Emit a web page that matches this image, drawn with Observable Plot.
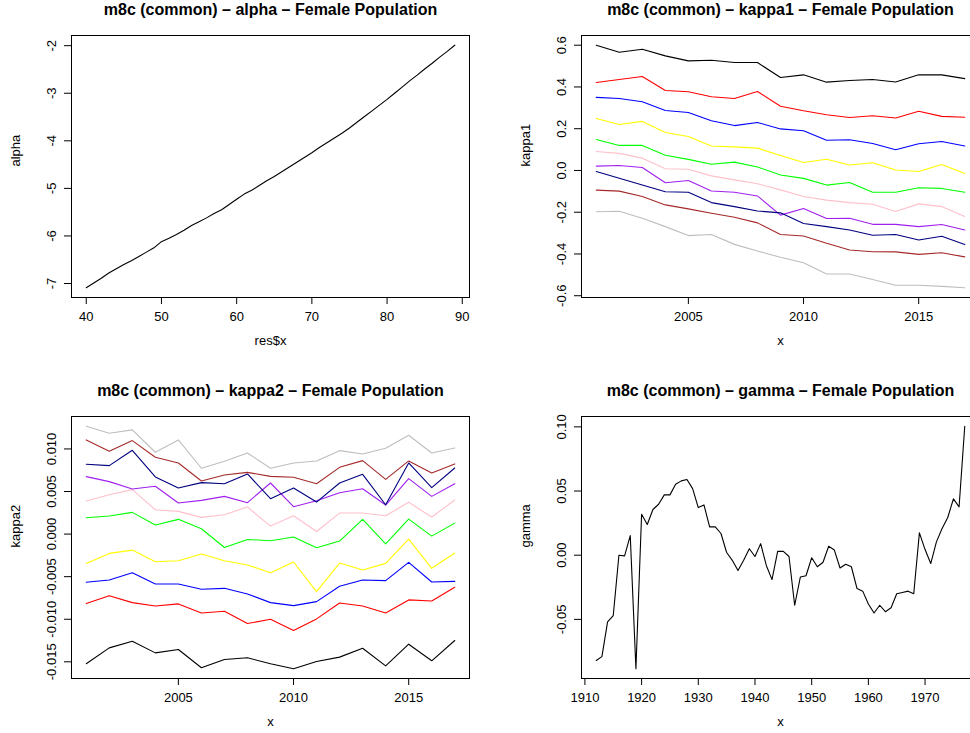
<!DOCTYPE html>
<html>
<head>
<meta charset="utf-8">
<script src="https://cdn.jsdelivr.net/npm/d3@7"></script>
<script src="https://cdn.jsdelivr.net/npm/@observablehq/plot@0.6"></script>
<style>
  html, body { margin: 0; padding: 0; background: #fff; }
  #wrap { position: relative; width: 970px; height: 733px; overflow: hidden; background: #fff; }
  .panel { position: absolute; width: 510px; height: 381px; }
</style>
</head>
<body>
<div id="wrap">
  <div class="panel" id="p1" style="left:0;top:0"></div>
  <div class="panel" id="p2" style="left:510px;top:0"></div>
  <div class="panel" id="p3" style="left:0;top:381px"></div>
  <div class="panel" id="p4" style="left:510px;top:381px"></div>
</div>
<script>
// ---------- DATA ----------
const ages = d3.range(40, 90); // 40..89
const alpha = [-7.09,-6.99,-6.89,-6.78,-6.69,-6.60,-6.52,-6.43,-6.34,-6.25,
  -6.12,-6.05,-5.97,-5.88,-5.78,-5.70,-5.62,-5.53,-5.45,-5.34,
  -5.23,-5.12,-5.04,-4.94,-4.84,-4.75,-4.65,-4.55,-4.45,-4.35,
  -4.25,-4.14,-4.04,-3.94,-3.84,-3.73,-3.61,-3.49,-3.37,-3.25,
  -3.13,-3.00,-2.87,-2.74,-2.62,-2.49,-2.37,-2.24,-2.12,-1.99];

const years = d3.range(2001, 2018); // 2001..2017
const seriesColors = ["#000000","#FF0000","#0000FF","#FFFF00","#00FF00","#FFC0CB","#A020F0","#000080","#A52A2A","#BEBEBE"];

const k1_black  = [0.600,0.566,0.581,0.549,0.525,0.528,0.517,0.517,0.445,0.458,0.423,0.431,0.436,0.424,0.458,0.458,0.440];
const k1_red    = [0.421,0.436,0.450,0.383,0.377,0.353,0.345,0.378,0.308,0.286,0.267,0.254,0.262,0.251,0.284,0.259,0.255];
const k1_blue   = [0.350,0.345,0.329,0.287,0.278,0.238,0.215,0.230,0.199,0.190,0.145,0.147,0.129,0.099,0.128,0.139,0.117];
const k1_yellow = [0.249,0.220,0.235,0.182,0.163,0.117,0.113,0.107,0.072,0.038,0.054,0.026,0.037,0.002,-0.005,0.029,-0.014];
const k1_green  = [0.148,0.120,0.120,0.073,0.053,0.030,0.040,0.017,-0.022,-0.038,-0.070,-0.058,-0.104,-0.104,-0.083,-0.086,-0.104];
const k1_pink   = [0.091,0.082,0.059,0.008,0.006,-0.026,-0.045,-0.064,-0.093,-0.125,-0.142,-0.154,-0.162,-0.197,-0.160,-0.173,-0.221];
const k1_purple = [0.021,0.024,0.014,-0.059,-0.048,-0.098,-0.104,-0.122,-0.214,-0.182,-0.230,-0.229,-0.258,-0.258,-0.269,-0.259,-0.285];
const k1_navy   = [-0.005,-0.037,-0.070,-0.102,-0.104,-0.154,-0.173,-0.194,-0.203,-0.254,-0.269,-0.285,-0.310,-0.307,-0.333,-0.315,-0.355];
const k1_brown  = [-0.094,-0.099,-0.125,-0.165,-0.184,-0.205,-0.224,-0.251,-0.307,-0.314,-0.349,-0.381,-0.389,-0.390,-0.402,-0.394,-0.414];
const k1_gray   = [-0.198,-0.195,-0.229,-0.269,-0.312,-0.307,-0.354,-0.386,-0.416,-0.442,-0.496,-0.496,-0.522,-0.550,-0.550,-0.555,-0.562];

const k2_black  = [-0.01523,-0.01336,-0.01258,-0.01395,-0.01355,-0.01570,-0.01473,-0.01453,-0.01523,-0.01582,-0.01496,-0.01445,-0.01340,-0.01547,-0.01293,-0.01488,-0.01250];
const k2_red    = [-0.00816,-0.00723,-0.00805,-0.00844,-0.00820,-0.00926,-0.00906,-0.01051,-0.01000,-0.01133,-0.00996,-0.00809,-0.00844,-0.00926,-0.00773,-0.00785,-0.00625];
const k2_blue   = [-0.00566,-0.00539,-0.00453,-0.00586,-0.00586,-0.00648,-0.00637,-0.00703,-0.00805,-0.00840,-0.00793,-0.00613,-0.00539,-0.00547,-0.00332,-0.00563,-0.00555];
const k2_yellow = [-0.00344,-0.00227,-0.00188,-0.00324,-0.00313,-0.00234,-0.00313,-0.00363,-0.00453,-0.00328,-0.00676,-0.00340,-0.00422,-0.00344,-0.00060,-0.00402,-0.00223];
const k2_green  = [0.00192,0.00212,0.00255,0.00106,0.00173,0.00063,-0.00157,-0.00063,-0.00078,-0.00035,-0.00161,-0.00082,0.00173,-0.00114,0.00176,-0.00024,0.00129];
const k2_pink   = [0.00388,0.00463,0.00522,0.00286,0.00267,0.00196,0.00227,0.00318,0.00094,0.00216,0.00031,0.00247,0.00247,0.00216,0.00373,0.00200,0.00400];
const k2_purple = [0.00675,0.00616,0.00529,0.00561,0.00365,0.00396,0.00443,0.00369,0.00600,0.00322,0.00392,0.00486,0.00533,0.00341,0.00651,0.00443,0.00592];
const k2_navy   = [0.00820,0.00804,0.00984,0.00671,0.00541,0.00604,0.00592,0.00706,0.00416,0.00541,0.00376,0.00600,0.00702,0.00345,0.00835,0.00545,0.00776];
const k2_brown  = [0.01106,0.00973,0.01098,0.00902,0.00835,0.00624,0.00694,0.00725,0.00678,0.00667,0.00592,0.00784,0.00863,0.00643,0.00859,0.00718,0.00824];
const k2_gray   = [0.01267,0.01184,0.01224,0.00961,0.01106,0.00773,0.00855,0.00953,0.00773,0.00835,0.00859,0.00980,0.00941,0.01008,0.01161,0.00953,0.01012];

const cohorts = d3.range(1912, 1978); // 1912..1977
const gamma = [-0.082,-0.079,-0.052,-0.047,0.000,-0.0005,0.0153,-0.0885,0.0319,0.0239,
  0.0356,0.0397,0.0470,0.0470,0.0553,0.0579,0.0590,0.0519,0.0371,0.0392,
  0.0221,0.0221,0.0169,0.0021,-0.004,-0.012,-0.004,0.005,-0.001,0.009,
  -0.008,-0.019,0.003,0.003,-0.001,-0.039,-0.017,-0.016,-0.002,-0.009,
  -0.0055,0.007,0.004,-0.010,-0.007,-0.009,-0.026,-0.028,-0.038,-0.045,
  -0.039,-0.044,-0.041,-0.030,-0.029,-0.028,-0.030,0.0174,0.0044,-0.0065,
  0.0104,0.0208,0.0294,0.0439,0.0377,0.1005];

const alphaTicksX = [40,50,60,70,80,90];
const alphaTicksY = [-7,-6,-5,-4,-3,-2];
const yearTicks = [2005,2010,2015];
const kappa1Ticks = [-0.6,-0.4,-0.2,0.0,0.2,0.4,0.6];
const kappa2Ticks = [-0.015,-0.010,-0.005,0.000,0.005,0.010];
const cohortTicks = [1910,1920,1930,1940,1950,1960,1970];
const gammaTicks = [-0.05,0.00,0.05,0.10];

const titles = [
  "m8c (common) \u2013 alpha \u2013 Female Population",
  "m8c (common) \u2013 kappa1 \u2013 Female Population",
  "m8c (common) \u2013 kappa2 \u2013 Female Population",
  "m8c (common) \u2013 gamma \u2013 Female Population"
];

// ---------- DRAWING ----------
const FONT = "'Liberation Sans', Arial, Helvetica, sans-serif";

function panel({xs, series, xTicks, yTicks, yFmt, xLabel, yLabel, title}) {
  const allY = series.flatMap(s => s.values);
  const ymin = d3.min(allY), ymax = d3.max(allY), yr = ymax - ymin;
  const xmin = d3.min(xs), xmax = d3.max(xs), xr = xmax - xmin;
  const marks = [
    ...series.map(s => Plot.line(xs.map((x, i) => ({x, y: s.values[i]})),
      {x: "x", y: "y", stroke: s.color, strokeWidth: 1.1})),
    Plot.frame({stroke: "black", strokeWidth: 1}),
    Plot.axisX({ticks: xTicks, tickSize: 7, tickPadding: 7, tickFormat: d => String(d), label: null}),
    Plot.axisY({ticks: yTicks, tickSize: 7, tickPadding: 9, tickRotate: -90, tickFormat: yFmt, label: null}),
    Plot.text([xLabel], {frameAnchor: "bottom", dy: 47, text: d => d}),
    Plot.text([yLabel], {frameAnchor: "left", dx: -56, rotate: -90, text: d => d}),
    Plot.text([title], {frameAnchor: "top", dy: -32, text: d => d, fontWeight: "bold", fontSize: 16})
  ];
  return Plot.plot({
    width: 510, height: 381,
    marginLeft: 71, marginRight: 41, marginTop: 35, marginBottom: 84,
    x: {type: "linear", domain: [xmin - 0.04 * xr, xmax + 0.04 * xr]},
    y: {type: "linear", domain: [ymin - 0.04 * yr, ymax + 0.04 * yr]},
    style: {fontFamily: FONT, fontSize: "13px", color: "black", background: "white", overflow: "visible"},
    marks
  });
}

document.getElementById("p1").append(panel({
  xs: ages, series: [{values: alpha, color: "#000000"}],
  xTicks: alphaTicksX, yTicks: alphaTicksY, yFmt: d => String(d),
  xLabel: "res$x", yLabel: "alpha", title: titles[0]
}));

const k1 = [k1_black,k1_red,k1_blue,k1_yellow,k1_green,k1_pink,k1_purple,k1_navy,k1_brown,k1_gray];
document.getElementById("p2").append(panel({
  xs: years, series: k1.map((v, i) => ({values: v, color: seriesColors[i]})),
  xTicks: yearTicks, yTicks: kappa1Ticks, yFmt: d => d.toFixed(1),
  xLabel: "x", yLabel: "kappa1", title: titles[1]
}));

const k2 = [k2_black,k2_red,k2_blue,k2_yellow,k2_green,k2_pink,k2_purple,k2_navy,k2_brown,k2_gray];
document.getElementById("p3").append(panel({
  xs: years, series: k2.map((v, i) => ({values: v, color: seriesColors[i]})),
  xTicks: yearTicks, yTicks: kappa2Ticks, yFmt: d => d.toFixed(3),
  xLabel: "x", yLabel: "kappa2", title: titles[2]
}));

document.getElementById("p4").append(panel({
  xs: cohorts, series: [{values: gamma, color: "#000000"}],
  xTicks: cohortTicks, yTicks: gammaTicks, yFmt: d => d.toFixed(2),
  xLabel: "x", yLabel: "gamma", title: titles[3]
}));
</script>
</body>
</html>
